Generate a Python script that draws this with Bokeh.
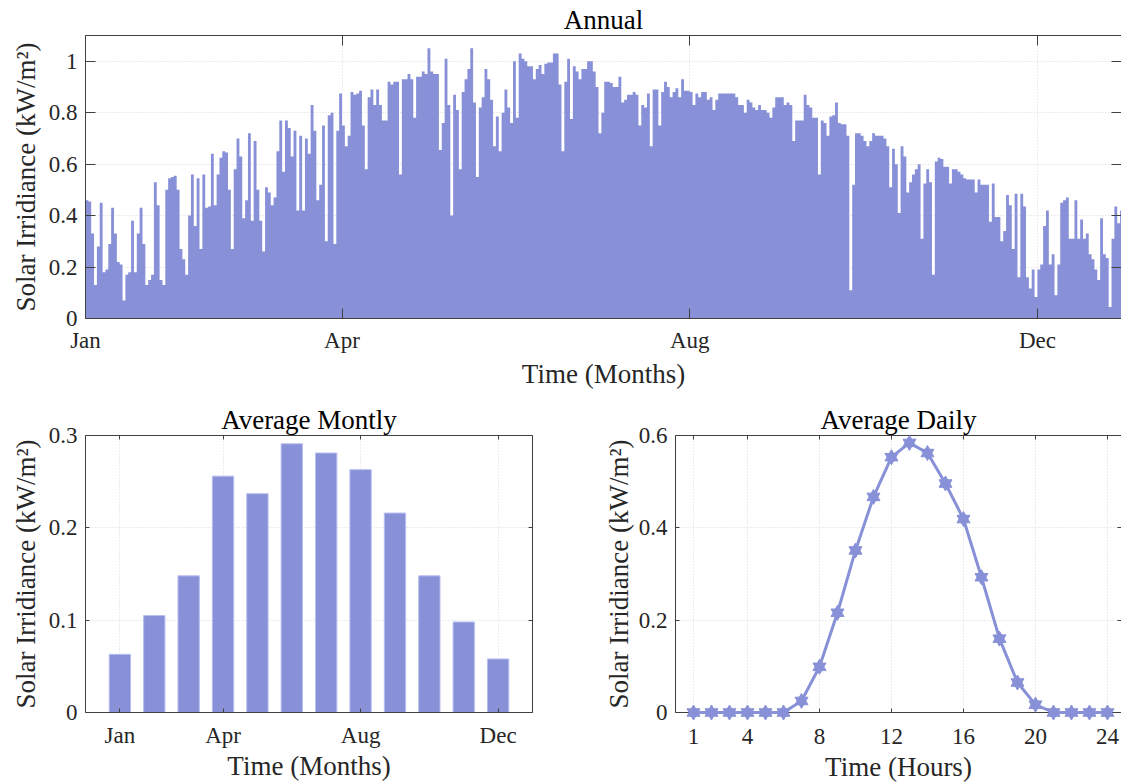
from bokeh.plotting import figure
from bokeh.layouts import column, row
from bokeh.models import FixedTicker, LinearAxis, Range1d, CustomJSTickFormatter
from bokeh.embed import file_html
from bokeh.resources import INLINE

# ---------------- data ----------------
annual_peak = [
    0.46, 0.455, 0.33, 0.13, 0.28, 0.45, 0.18, 0.19, 0.29, 0.43,
    0.33, 0.22, 0.21, 0.07, 0.17, 0.18, 0.38, 0.18, 0.33, 0.43,
    0.29, 0.13, 0.15, 0.17, 0.53, 0.44, 0.15, 0.13, 0.50, 0.545,
    0.55, 0.555, 0.50, 0.27, 0.23, 0.17, 0.40, 0.56, 0.36, 0.545,
    0.27, 0.56, 0.43, 0.435, 0.64, 0.44, 0.56, 0.625, 0.65, 0.645,
    0.50, 0.27, 0.58, 0.70, 0.63, 0.39, 0.46, 0.72, 0.38, 0.69,
    0.50, 0.38, 0.26, 0.51, 0.49, 0.44, 0.47, 0.65, 0.77, 0.57,
    0.77, 0.74, 0.63, 0.73, 0.42, 0.71, 0.42, 0.70, 0.64, 0.83,
    0.73, 0.46, 0.52, 0.75, 0.30, 0.79, 0.80, 0.29, 0.73, 0.875,
    0.75, 0.67, 0.71, 0.88, 0.87, 0.875, 0.885, 0.75, 0.58, 0.86,
    0.89, 0.83, 0.89, 0.83, 0.77, 0.77, 0.92, 0.91, 0.92, 0.92,
    0.56, 0.93, 0.93, 0.95, 0.93, 0.78, 0.94, 0.94, 0.96, 0.95,
    1.05, 0.96, 0.95, 0.95, 0.655, 0.76, 1.01, 0.83, 0.40, 0.87,
    0.81, 0.58, 0.88, 0.93, 0.97, 1.05, 0.84, 0.55, 0.82, 0.86,
    0.97, 0.93, 0.85, 0.67, 0.785, 0.65, 0.80, 0.89, 0.82, 0.76,
    1.00, 0.78, 1.03, 1.01, 1.00, 0.98, 0.98, 0.93, 0.97, 0.985,
    0.95, 0.99, 0.995, 0.995, 1.03, 1.03, 0.91, 0.65, 0.92, 1.01,
    0.775, 0.98, 0.96, 0.93, 0.97, 0.97, 1.00, 1.00, 0.96, 0.90,
    0.72, 0.80, 0.92, 0.92, 0.915, 0.90, 0.90, 0.94, 0.84, 0.85,
    0.87, 0.87, 0.88, 0.87, 0.75, 0.83, 0.82, 0.875, 0.67, 0.89,
    0.89, 0.75, 0.88, 0.92, 0.90, 0.86, 0.88, 0.895, 0.86, 0.93,
    0.885, 0.885, 0.88, 0.83, 0.875, 0.86, 0.88, 0.88, 0.85, 0.86,
    0.81, 0.85, 0.875, 0.875, 0.875, 0.875, 0.875, 0.875, 0.86, 0.83,
    0.83, 0.80, 0.85, 0.84, 0.82, 0.81, 0.83, 0.81, 0.81, 0.80,
    0.78, 0.82, 0.86, 0.86, 0.86, 0.83, 0.84, 0.83, 0.69, 0.77,
    0.77, 0.77, 0.87, 0.83, 0.82, 0.78, 0.78, 0.56, 0.77, 0.76,
    0.71, 0.785, 0.79, 0.84, 0.76, 0.755, 0.755, 0.71, 0.11, 0.52,
    0.72, 0.72, 0.71, 0.69, 0.67, 0.69, 0.72, 0.71, 0.71, 0.71,
    0.70, 0.67, 0.51, 0.66, 0.60, 0.41, 0.67, 0.63, 0.49, 0.53,
    0.56, 0.58, 0.60, 0.31, 0.525, 0.58, 0.53, 0.17, 0.61, 0.625,
    0.62, 0.59, 0.59, 0.525, 0.58, 0.58, 0.57, 0.56, 0.545, 0.54,
    0.54, 0.54, 0.49, 0.54, 0.52, 0.52, 0.52, 0.376, 0.525, 0.395,
    0.395, 0.30, 0.34, 0.48, 0.44, 0.27, 0.485, 0.16, 0.485, 0.435,
    0.16, 0.117, 0.19, 0.084, 0.19, 0.21, 0.36, 0.42, 0.21, 0.25,
    0.09, 0.21, 0.45, 0.46, 0.47, 0.31, 0.31, 0.46, 0.31, 0.385,
    0.31, 0.33, 0.25, 0.23, 0.19, 0.15, 0.39, 0.25, 0.235, 0.045,
    0.31, 0.435, 0.37, 0.42, 0.42,
]
annual_day = list(range(len(annual_peak)))          # day index, 0 = 1 Jan
annual_tick_days = [0, 90, 212, 334]
annual_tick_labels = ["Jan", "Apr", "Aug", "Dec"]
annual_y_ticks = [0, 0.2, 0.4, 0.6, 0.8, 1.0]
annual_y_labels = ["0", "0.2", "0.4", "0.6", "0.8", "1"]

month_num = list(range(1, 13))
monthly_avg = [0.063, 0.105, 0.148, 0.256, 0.237, 0.291, 0.281, 0.263, 0.216, 0.148, 0.098, 0.058]
month_tick_nums = [1, 4, 8, 12]
month_tick_labels = ["Jan", "Apr", "Aug", "Dec"]
monthly_y_ticks = [0, 0.1, 0.2, 0.3]
monthly_y_labels = ["0", "0.1", "0.2", "0.3"]

hours = list(range(1, 25))
hourly_avg = [0, 0, 0, 0, 0, 0, 0.025, 0.099, 0.216, 0.351, 0.467, 0.553,
              0.584, 0.562, 0.496, 0.419, 0.293, 0.160, 0.065, 0.017, 0, 0, 0, 0]
hour_ticks = [1, 4, 8, 12, 16, 20, 24]
hour_tick_labels = ["1", "4", "8", "12", "16", "20", "24"]
daily_y_ticks = [0, 0.2, 0.4, 0.6]
daily_y_labels = ["0", "0.2", "0.4", "0.6"]

# ---------------- style ----------------
FONT = "Liberation Serif"
C = "#8891D7"
EDGE = "#b7bdf0"
AX = "#404040"
TXT = "#262626"
GRID = "#d9d9d9"
YLAB = "Solar Irridiance (kW/m\u00b2)"
EMPTY = CustomJSTickFormatter(code="return ''")


def make_fig(width, height, xr, yr, borders, title, xlabel, xticks, xlabels,
             yticks, ylabels, tick_len, xstand, xlab_stand, ylab_stand):
    p = figure(width=width, height=height, x_range=Range1d(*xr), y_range=Range1d(*yr),
               output_backend="svg", toolbar_location=None,
               min_border_left=borders[0], min_border_right=borders[1],
               min_border_top=borders[2], min_border_bottom=borders[3])
    p.outline_line_color = None
    p.background_fill_color = "white"
    p.border_fill_color = "white"

    p.title.text = title
    p.title.align = "center"
    p.title.text_font = FONT
    p.title.text_font_size = "27px"
    p.title.text_font_style = "normal"
    p.title.text_color = "#000000"
    p.title.standoff = 2

    xt = FixedTicker(ticks=xticks)
    yt = FixedTicker(ticks=yticks)
    for ax, t, labs in ((p.xaxis[0], xt, dict(zip(xticks, xlabels))),
                        (p.yaxis[0], yt, dict(zip(yticks, ylabels)))):
        ax.ticker = t
        ax.major_label_overrides = labs
        ax.major_label_text_font = FONT
        ax.major_label_text_font_size = "23px"
        ax.major_label_text_color = TXT
        ax.axis_label_text_font = FONT
        ax.axis_label_text_font_size = "27px"
        ax.axis_label_text_font_style = "normal"
        ax.axis_label_text_color = TXT
        ax.axis_line_color = AX
        ax.major_tick_line_color = AX
        ax.major_tick_in = tick_len
        ax.major_tick_out = 0
        ax.minor_tick_line_color = None
    p.xaxis[0].axis_label = xlabel
    p.yaxis[0].axis_label = YLAB
    p.xaxis[0].major_label_standoff = xstand
    p.xaxis[0].axis_label_standoff = xlab_stand
    p.yaxis[0].major_label_standoff = 8
    p.yaxis[0].axis_label_standoff = ylab_stand

    top = LinearAxis(ticker=xt, formatter=EMPTY, major_tick_in=tick_len, major_tick_out=0,
                     minor_tick_line_color=None, axis_line_color=AX, major_tick_line_color=AX,
                     major_label_text_font_size="1px", major_label_standoff=0)
    right = LinearAxis(ticker=yt, formatter=EMPTY, major_tick_in=tick_len, major_tick_out=0,
                       minor_tick_line_color=None, axis_line_color=AX, major_tick_line_color=AX,
                       major_label_text_font_size="1px", major_label_standoff=0)
    p.add_layout(top, "above")
    p.add_layout(right, "right")

    p.xgrid.ticker = xt
    p.ygrid.ticker = yt
    for g in (p.xgrid[0], p.ygrid[0]):
        g.grid_line_color = GRID
        g.grid_line_dash = "1 2"
        g.grid_line_width = 1
    return p


# ---- Annual ----
p1 = make_fig(1121, 392, (0, 363.5), (0, 1.1), (85, 0, 35, 74), "Annual", "Time (Months)",
              annual_tick_days, annual_tick_labels, annual_y_ticks, annual_y_labels, 10, 9, 3, 5)
p1.varea_step(x=annual_day, y1=0, y2=annual_peak, step_mode="after", fill_color=C)

# ---- Average Monthly ----
p2 = make_fig(600, 392, (0, 13), (0, 0.3), (85, 68, 43, 69), "Average Montly", "Time (Months)",
              month_tick_nums, month_tick_labels, monthly_y_ticks, monthly_y_labels, 4, 10, 0, 5)
p2.vbar(x=month_num, top=monthly_avg, width=0.62, bottom=0,
        fill_color=C, line_color=EDGE, line_width=1)

# ---- Average Daily ----
p3 = make_fig(521, 392, (0, 24.78), (0, 0.6), (75, 0, 43, 69), "Average Daily", "Time (Hours)",
              hour_ticks, hour_tick_labels, daily_y_ticks, daily_y_labels, 4, 16, 5, 2)
p3.line(hours, hourly_avg, line_color=C, line_width=3, level="overlay")
p3.scatter(hours, hourly_avg, marker="triangle", size=13, fill_color=C, line_color=C, level="overlay")
p3.scatter(hours, hourly_avg, marker="inverted_triangle", size=13, fill_color=C, line_color=C, level="overlay")

layout = column(p1, row(p2, p3, spacing=0), spacing=0)

open("out.html", "w").write(file_html(layout, INLINE))
